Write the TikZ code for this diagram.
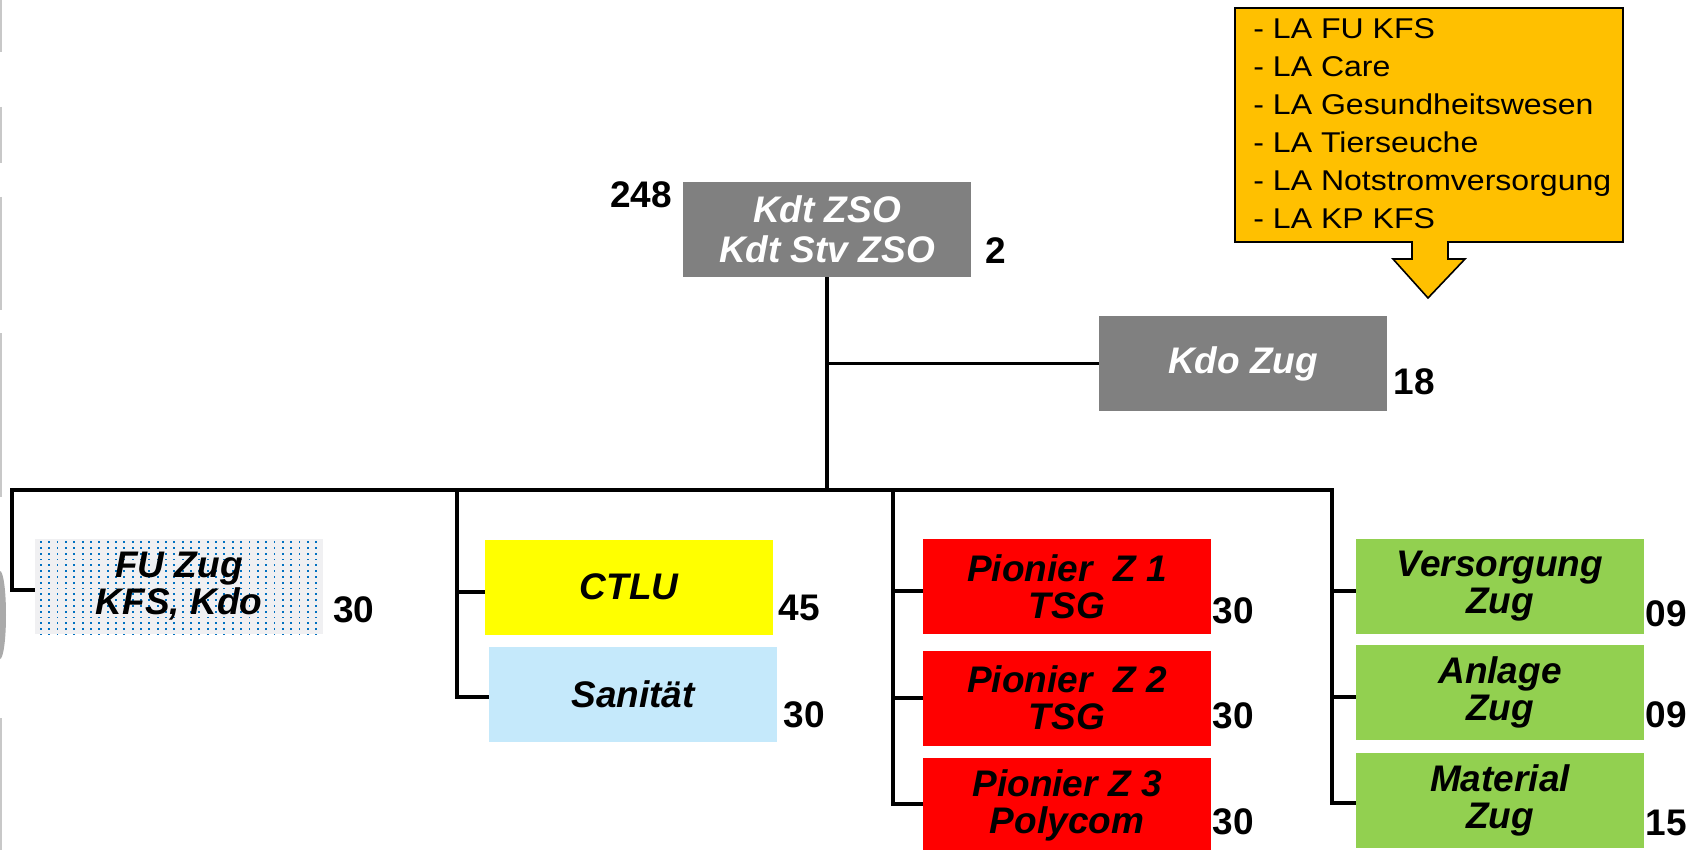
\documentclass[tikz,border=0pt]{standalone}
\usepackage{fontspec}
\setmainfont{Liberation Sans}
\newfontfamily\listfont[FakeStretch=1.12]{Liberation Sans}
\usetikzlibrary{positioning}
\definecolor{leadgray}{HTML}{808080}
\definecolor{ctluyellow}{HTML}{FFFF00}
\definecolor{sanblue}{HTML}{C5E9FB}
\definecolor{pionred}{HTML}{FF0000}
\definecolor{zuggreen}{HTML}{92D050}
\definecolor{laorange}{HTML}{FFC000}
\definecolor{fubg}{HTML}{F0F0F2}
\definecolor{fudot}{HTML}{0070C0}
\definecolor{edgegray}{HTML}{C8C8C8}
\tikzset{
  unitbox/.style={rectangle, inner sep=0pt, minimum width=144pt, minimum height=47.5pt, align=center, font=\bfseries\itshape\fontsize{18.5}{18.5}\selectfont},
  leadbox/.style={unitbox, fill=leadgray, text=white},
  dotbox/.style={unitbox, fill=fubg, path picture={
      \foreach \i in {0,...,34} \foreach \j in {0,...,16}
        \fill[fudot] ([xshift=\i*4.17pt, yshift=-\j*2.9pt]path picture bounding box.north west) ++(2.5pt,-1.1pt) rectangle ++(0.9pt,-0.9pt);}},
  strength/.style={inner sep=0pt, font=\bfseries\fontsize{18.5}{18.5}\selectfont},
  link/.style={line width=1.65pt}
}

\begin{document}
\begin{tikzpicture}[x=0.5pt, y=-0.5pt]
  \path[use as bounding box, fill=white] (0,0) rectangle (1697,850);
  % leftovers at the slide edge
  \draw[edgegray, line width=1pt] (1,0) -- (1,52) (1,107) -- (1,163) (1,197) -- (1,310) (1,333) -- (1,497) (1,718) -- (1,850);
  \fill[edgegray!85!black] (0,615) ellipse [x radius=3pt, y radius=22pt];

  % Leistungsauftraege
  \filldraw[fill=laorange, draw=black, line width=0.8pt] (1235,8) -- (1623,8) -- (1623,242) -- (1448,242) -- (1448,259) -- (1465,259) -- (1428,298) -- (1393,259) -- (1412,259) -- (1412,242) -- (1235,242) -- cycle;
  \node[anchor=north west, inner sep=0pt, align=left, font=\listfont\fontsize{14.3}{19}\selectfont] (la) at (1253,18.5)
    {- LA FU KFS\\- LA Care\\- LA Gesundheitswesen\\- LA Tierseuche\\- LA Notstromversorgung\\- LA KP KFS};

  % Fuehrung
  \node[leadbox, font=\bfseries\itshape\fontsize{18.5}{20}\selectfont] (kdt) at (827,229.5) {Kdt ZSO\\Kdt Stv ZSO};
  \node[leadbox] (kdo) at (1243,363.5) {Kdo Zug};

  % Zuege
  \node[dotbox] (fu) at (179,586.5) {FU Zug\\KFS, Kdo};
  \node[unitbox, fill=ctluyellow] (ctlu) at (629,587) {CTLU};
  \node[unitbox, fill=sanblue] (san) at (633,694) {Sanität};
  \node[unitbox, fill=pionred] (pz1) at (1067,586.5) {Pionier\ \ Z 1\\TSG};
  \node[unitbox, fill=pionred] (pz2) at (1067,698) {Pionier\ \ Z 2\\TSG};
  \node[unitbox, fill=pionred] (pz3) at (1067,805.5) {Pionier Z 3\\Polycom};
  \node[unitbox, fill=zuggreen] (vz) at (1500,586.5) {Versorgung\\Zug};
  \node[unitbox, fill=zuggreen] (az) at (1500,692.5) {Anlage\\Zug};
  \node[unitbox, fill=zuggreen] (mz) at (1500,800) {Material\\Zug};

  % Bestaende
  \node[strength] (n-kdt) at (641,195) {248};
  \node[strength] (n-stv) at (996,251) {2};
  \node[strength] (n-kdo) at (1414,382) {18};
  \node[strength] (n-fu) at (354,610) {30};
  \node[strength] (n-ctlu) at (799,608) {45};
  \node[strength] (n-san) at (804,715) {30};
  \node[strength] (n-pz1) at (1233,611) {30};
  \node[strength] (n-pz2) at (1233,716) {30};
  \node[strength] (n-pz3) at (1233,822) {30};
  \node[strength] (n-vz) at (1666,614) {09};
  \node[strength] (n-az) at (1666,715) {09};
  \node[strength] (n-mz) at (1666,823) {15};

  % Linien
  \coordinate (busL) at (12,490);
  \coordinate (b2) at (457,490);
  \coordinate (b3) at (893,490);
  \coordinate (busR) at (1332,490);
  \draw[link] (kdt.south) -- (kdt.south |- busL);
  \draw[link] (kdo.west) -- (kdt.south |- kdo.west);
  \draw[link] ([yshift=-1.75pt]fu.west) -| (busL) -- (busR) |- ([yshift=-1.5pt]mz.west);
  \draw[link] (b2) |- ([yshift=-1.5pt]san.west);
  \draw[link] ([yshift=-2.5pt]ctlu.west) -| (b2);
  \draw[link] (b3) |- ([yshift=0.75pt]pz3.west);
  \draw[link] ([yshift=-2.25pt]pz1.west) -| (b3);
  \draw[link] (pz2.west) -| (b3);
  \draw[link] ([yshift=-2.25pt]vz.west) -| (busR);
  \draw[link] ([yshift=-2.25pt]az.west) -| (busR);
\end{tikzpicture}
\end{document}
